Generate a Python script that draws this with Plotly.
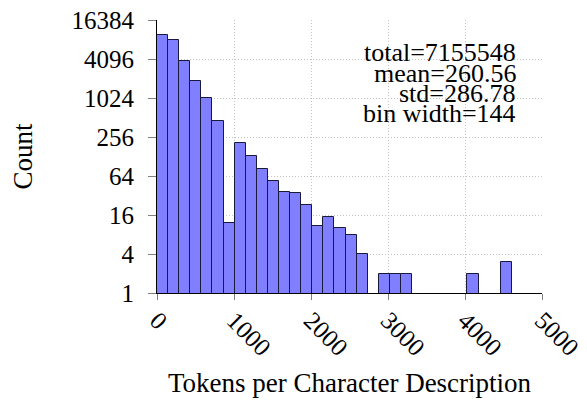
import plotly.graph_objects as go

# ---- data ----
bin_width = 144
counts = [9600, 8130, 3850, 1870, 1024, 458, 12, 205, 131, 82, 54, 36, 35, 23,
          11, 15, 10, 8, 4, None, 2, 2, 2, None, None, None, None, None, 2,
          None, None, 3]
bin_starts = [i * bin_width for i in range(len(counts))]
y_ticks = [1, 4, 16, 64, 256, 1024, 4096, 16384]
x_ticks = [0, 1000, 2000, 3000, 4000, 5000]
stats_lines = ["total=7155548", "mean=260.56", "std=286.78", "bin width=144"]
x_title = "Tokens per Character Description"
y_title = "Count"

FONT = "'Liberation Serif', 'Times New Roman', 'DejaVu Serif', serif"

fig = go.Figure()
fig.add_trace(go.Bar(
    x=bin_starts, y=counts, width=bin_width, offset=0,
    marker=dict(color="rgb(127,127,255)", line=dict(color="rgb(25,25,60)", width=1)),
    hoverinfo="x+y",
))

stat_y = [0.881, 0.806, 0.734, 0.661]
for txt, yy in zip(stats_lines, stat_y):
    fig.add_annotation(text=txt, xref="paper", yref="paper", x=0.9377, y=yy,
                       xanchor="right", yanchor="middle", showarrow=False,
                       height=20,
                       font=dict(family=FONT, size=26, color="black"))

grid = dict(showgrid=True, gridcolor="#c4c4c4", griddash="1px,2px", gridwidth=1)

# the page body adds an 8px offset; margins compensate for it
fig.update_layout(
    width=587, height=406,
    margin=dict(l=149, r=53, t=12, b=121),
    paper_bgcolor="white", plot_bgcolor="white",
    font=dict(family=FONT, size=27, color="black"),
    showlegend=False, bargap=0,
    xaxis=dict(
        range=[0, 5000], tickvals=x_ticks, ticktext=[str(v) for v in x_ticks],
        tickangle=45, showline=True, linecolor="black", linewidth=1,
        ticks="outside", ticklen=6, tickcolor="gray", automargin=False,
        ticklabeloverflow="allow", ticklabelstandoff=-4,
        tickfont=dict(size=25),
        zeroline=False, mirror=False,
        title=dict(text=x_title, standoff=12, font=dict(size=27)),
        **grid,
    ),
    yaxis=dict(
        type="log", range=[0, 4.21442], tickvals=y_ticks,
        ticktext=[str(v) for v in y_ticks],
        showline=True, linecolor="black", linewidth=1,
        ticks="outside", ticklen=8, tickcolor="gray", automargin=False,
        ticklabelstandoff=9, ticklabeloverflow="allow",
        tickfont=dict(size=25),
        zeroline=False,
        title=dict(text=y_title, standoff=34, font=dict(size=27)),
        **grid,
    ),
)

fig.write_html("out.html")
